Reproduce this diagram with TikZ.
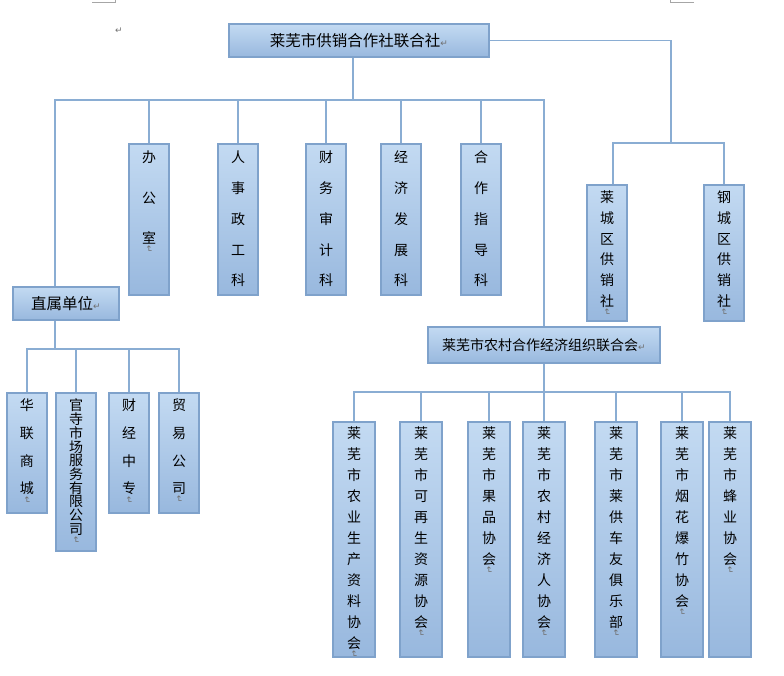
\documentclass[tikz,border=0pt]{standalone}
\usepackage{fontspec}
\usepackage{graphicx}
\newfontfamily\cjk{Noto Sans CJK SC}
\newfontfamily\markfont{DejaVu Sans}
\definecolor{boxtop}{HTML}{C3DAF2}
\definecolor{boxbot}{HTML}{98B8DE}
\definecolor{boxline}{HTML}{7FA2CB}
\definecolor{linkblue}{HTML}{8AADD3}
\definecolor{markgray}{HTML}{707070}
% paragraph marks as the screenshot shows them
\newcommand{\pmk}{{\markfont\fontsize{9}{9}\selectfont\color{markgray}↵}}
\newcommand{\vmk}{\par\nointerlineskip\vspace{1pt}{\markfont\fontsize{9}{9}\selectfont\color{markgray}\rotatebox{-90}{↵}}}
% one character per line: height, line distance, top gap, text
\newcommand{\colchars}[4]{\parbox[c][#1pt][t]{36pt}{\centering\lineskiplimit=-100pt\setlength{\baselineskip}{#2pt}\vspace*{#3pt}#4\par}}
\tikzset{
  hbox/.style={draw=boxline, line width=1.8pt, top color=boxtop, bottom color=boxbot, inner sep=0pt, font=\cjk\fontsize{15.5}{18}\selectfont},
  vbox/.style={hbox, anchor=north, minimum width=40pt, font=\cjk\fontsize{14}{16}\selectfont},
  link/.style={draw=linkblue, line width=1.6pt},
}
\begin{document}
\begin{tikzpicture}[x=1pt,y=-1pt]
	\useasboundingbox (0,0) rectangle (784,675);
	\draw[gray!70, line width=0.8pt] (92,2) -- (115,2) -- (115,0);
	\draw[gray!70, line width=0.8pt] (694,2) -- (670,2) -- (670,0);
	\node (pm0) at (119,31) {\pmk};
	% top
	\node[hbox, minimum width=260pt, minimum height=33pt] (root) at (359,40.5) {莱芜市供销合作社联合社\pmk};
	\node[hbox, minimum width=106pt, minimum height=33pt] (zs) at (66,303.5) {直属单位\pmk};
	\node[hbox, minimum width=232pt, minimum height=36pt, font=\cjk\fontsize{14}{16}\selectfont] (nc) at (544,345) {莱芜市农村合作经济组织联合会\pmk};
	% departments
	\node[vbox] (d1) at (149,143) {\colchars{151}{40.5}{7.2}{办\\公\\室\vmk}};
	\node[vbox] (d2) at (238,143) {\colchars{151}{30.75}{7.2}{人\\事\\政\\工\\科}};
	\node[vbox] (d3) at (326,143) {\colchars{151}{30.75}{7.2}{财\\务\\审\\计\\科}};
	\node[vbox] (d4) at (401,143) {\colchars{151}{30.75}{7.2}{经\\济\\发\\展\\科}};
	\node[vbox] (d5) at (481,143) {\colchars{151}{30.75}{7.2}{合\\作\\指\\导\\科}};
	% district societies
	\node[vbox] (lc) at (607,184) {\colchars{136}{20.7}{6.2}{莱\\城\\区\\供\\销\\社\vmk}};
	\node[vbox] (gc) at (724,184) {\colchars{136}{20.7}{6.2}{钢\\城\\区\\供\\销\\社\vmk}};
	% direct units
	\node[vbox] (l1) at (27,392) {\colchars{120}{27.7}{6.2}{华\\联\\商\\城\vmk}};
	\node[vbox] (l2) at (76,392) {\colchars{158}{13.7}{6.2}{官\\寺\\市\\场\\服\\务\\有\\限\\公\\司\vmk}};
	\node[vbox] (l3) at (129,392) {\colchars{120}{27.7}{6.2}{财\\经\\中\\专\vmk}};
	\node[vbox] (l4) at (179,392) {\colchars{120}{27.7}{6.2}{贸\\易\\公\\司\vmk}};
	% associations
	\node[vbox, minimum width=42pt] (n1) at (354,421) {\colchars{235}{21}{5.2}{莱\\芜\\市\\农\\业\\生\\产\\资\\料\\协\\会\vmk}};
	\node[vbox, minimum width=42pt] (n2) at (421,421) {\colchars{235}{21}{5.2}{莱\\芜\\市\\可\\再\\生\\资\\源\\协\\会\vmk}};
	\node[vbox, minimum width=42pt] (n3) at (489,421) {\colchars{235}{21}{5.2}{莱\\芜\\市\\果\\品\\协\\会\vmk}};
	\node[vbox, minimum width=42pt] (n4) at (544,421) {\colchars{235}{21}{5.2}{莱\\芜\\市\\农\\村\\经\\济\\人\\协\\会\vmk}};
	\node[vbox, minimum width=42pt] (n5) at (616,421) {\colchars{235}{21}{5.2}{莱\\芜\\市\\莱\\供\\车\\友\\俱\\乐\\部\vmk}};
	\node[vbox, minimum width=42pt] (n6) at (682,421) {\colchars{235}{21}{5.2}{莱\\芜\\市\\烟\\花\\爆\\竹\\协\\会\vmk}};
	\node[vbox, minimum width=42pt] (n7) at (730,421) {\colchars{235}{21}{5.2}{莱\\芜\\市\\蜂\\业\\协\\会\vmk}};
	% connectors
	\coordinate (b1) at (353,100);
	\coordinate (b2) at (671,143);
	\coordinate (b3) at (55,349);
	\coordinate (b4) at (544,392);
	\draw[link] ([xshift=-6pt]root.south) -- (b1);
	\draw[link] ([xshift=-11pt]zs.north) |- (nc.north |- b1) -- (nc.north);
	\foreach \i in {1,...,5}
	{
		\draw[link] (d\i.north) -- (d\i.north |- b1);
	}
	\draw[link] (root.east) -| (b2);
	\draw[link] ([xshift=6pt]lc.north) |- (b2) -| (gc.north);
	\draw[link] ([xshift=-11pt]zs.south) -- (b3);
	\draw[link] (l1.north) |- (l4.north |- b3) -- (l4.north);
	\foreach \i in {2,3}
	{
		\draw[link] (l\i.north) -- (l\i.north |- b3);
	}
	\draw[link] (nc.south) -- (b4);
	\draw[link] (n1.north) |- (n7.north |- b4) -- (n7.north);
	\foreach \i in {2,...,6}
	{
		\draw[link] (n\i.north) -- (n\i.north |- b4);
	}
\end{tikzpicture}
\end{document}
